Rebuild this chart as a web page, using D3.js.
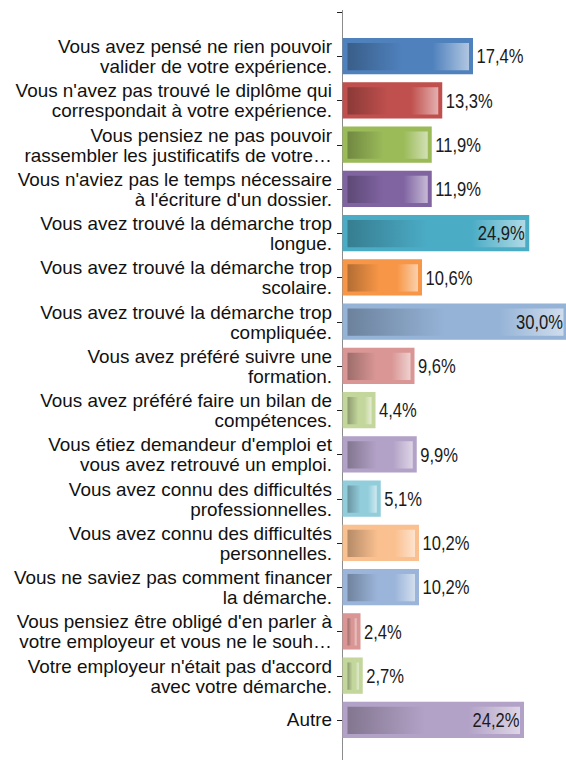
<!DOCTYPE html>
<html>
<head>
<meta charset="utf-8">
<script src="https://cdn.jsdelivr.net/npm/d3@7"></script>
<style>
  body { margin: 0; background: #fff; }
  text { font-family: "Liberation Sans", Arial, sans-serif; }
</style>
</head>
<body>
<div id="chart"></div>
<script>
// categories (each split on the two lines shown), values in %, bar colours
let labels = [
    ["Vous avez pensé ne rien pouvoir", "valider de votre expérience."],
    ["Vous n'avez pas trouvé le diplôme qui", "correspondait à votre expérience."],
    ["Vous pensiez ne pas pouvoir", "rassembler les justificatifs de votre…"],
    ["Vous n'aviez pas le temps nécessaire", "à l'écriture d'un dossier."],
    ["Vous avez trouvé la démarche trop", "longue."],
    ["Vous avez trouvé la démarche trop", "scolaire."],
    ["Vous avez trouvé la démarche trop", "compliquée."],
    ["Vous avez préféré suivre une", "formation."],
    ["Vous avez préféré faire un bilan de", "compétences."],
    ["Vous étiez demandeur d'emploi et", "vous avez retrouvé un emploi."],
    ["Vous avez connu des difficultés", "professionnelles."],
    ["Vous avez connu des difficultés", "personnelles."],
    ["Vous ne saviez pas comment financer", "la démarche."],
    ["Vous pensiez être obligé d'en parler à", "votre employeur et vous ne le souh…"],
    ["Votre employeur n'était pas d'accord", "avec votre démarche."],
    ["Autre"]
];
let values = [17.4, 13.3, 11.9, 11.9, 24.9, 10.6, 30.0, 9.6, 4.4, 9.9, 5.1, 10.2, 10.2, 2.4, 2.7, 24.2];
let barColors = ["#4f81bd", "#c0504d", "#9bbb59", "#8064a2", "#4bacc6", "#f79646", "#95b3d7", "#d99694",
    "#c3d69b", "#b3a2c7", "#92cddc", "#fac08f", "#9bb5da", "#d99694", "#c3d69b", "#b3a2c7"];

let width = 566, height = 760;

let data = values.map(function (v, i) {
    return { id: i, lines: labels[i], value: v, color: barColors[i] };
});

let svg = d3.select("#chart")
    .append("svg")
    .attr("width", width)
    .attr("height", height);

let x = d3.scaleLinear()
    .domain([0, 30])
    .range([342, 567]);

let y = d3.scaleBand()
    .domain(data.map(function (d) { return d.id; }))
    .range([34, 742])
    .paddingInner(0.18)
    .paddingOuter(0.09);

function mid(d) { return y(d.id) + y.bandwidth() / 2; }

// gradients: dark on the left, base in the middle, pale on the right
let defs = svg.append("defs");
data.forEach(function (d) {
    let c = d3.color(d.color);
    let g = defs.append("linearGradient")
        .attr("id", "grad" + d.id)
        .attr("x1", 0).attr("x2", 1).attr("y1", 0).attr("y2", 0);
    g.append("stop").attr("offset", 0).attr("stop-color", c.darker(0.9));
    g.append("stop").attr("offset", 0.45).attr("stop-color", d.color);
    g.append("stop").attr("offset", 0.7).attr("stop-color", d.color);
    g.append("stop").attr("offset", 1).attr("stop-color", d3.interpolateRgb(d.color, "#fff")(0.55));
});

// axis
svg.append("line")
    .attr("x1", 342.5).attr("x2", 342.5)
    .attr("y1", 10).attr("y2", 760)
    .attr("stroke", "#8c8c8c");

let ticks = [12].concat(data.map(mid));
svg.selectAll("tickMarks")
    .data(ticks)
    .enter()
    .append("line")
    .attr("x1", 337).attr("x2", 342)
    .attr("y1", function (d) { return Math.round(d) + 0.5; })
    .attr("y2", function (d) { return Math.round(d) + 0.5; })
    .attr("stroke", "#222");

// bars
let bars = svg.append("g")
    .selectAll("g")
    .data(data)
    .enter()
    .append("g");

bars.append("rect")
    .attr("x", x(0) + 0.5)
    .attr("y", function (d) { return y(d.id); })
    .attr("width", function (d) { return x(d.value) - x(0); })
    .attr("height", y.bandwidth())
    .style("fill", function (d) { return d.color; });

bars.append("rect")
    .attr("x", x(0) + 5.5)
    .attr("y", function (d) { return y(d.id) + 5; })
    .attr("width", function (d) { return Math.max(1, x(d.value) - x(0) - 9); })
    .attr("height", y.bandwidth() - 9)
    .style("fill", function (d) { return "url(#grad" + d.id + ")"; });

// value labels (tall, narrow digits)
bars.append("text")
    .attr("transform", function (d) {
        let tx = d.value > 20 ? x(d.value) - 4 : x(d.value) + 4;
        return "translate(" + tx + "," + (mid(d) + 7.3) + ") scale(0.85,1)";
    })
    .attr("text-anchor", function (d) { return d.value > 20 ? "end" : "start"; })
    .style("font-size", "19.5px")
    .style("fill", "#1a1a1a")
    .text(function (d) { return d3.format(".1f")(d.value).replace(".", ",") + "%"; });

// category labels
let cats = svg.append("g")
    .selectAll("text")
    .data(data)
    .enter()
    .append("text")
    .attr("text-anchor", "end")
    .style("font-size", "18px")
    .style("fill", "#111")
    .attr("transform", function (d) { return "translate(332," + mid(d) + ") scale(1.05,1)"; });

cats.selectAll("tspan")
    .data(function (d) { return d.lines.map(function (l, j) { return { l: l, j: j, n: d.lines.length }; }); })
    .enter()
    .append("tspan")
    .attr("x", 0)
    .attr("dy", function (t) {
        if (t.n === 1) return 6.5;
        return t.j === 0 ? -3 : 20;
    })
    .text(function (t) { return t.l; });
</script>
</body>
</html>
